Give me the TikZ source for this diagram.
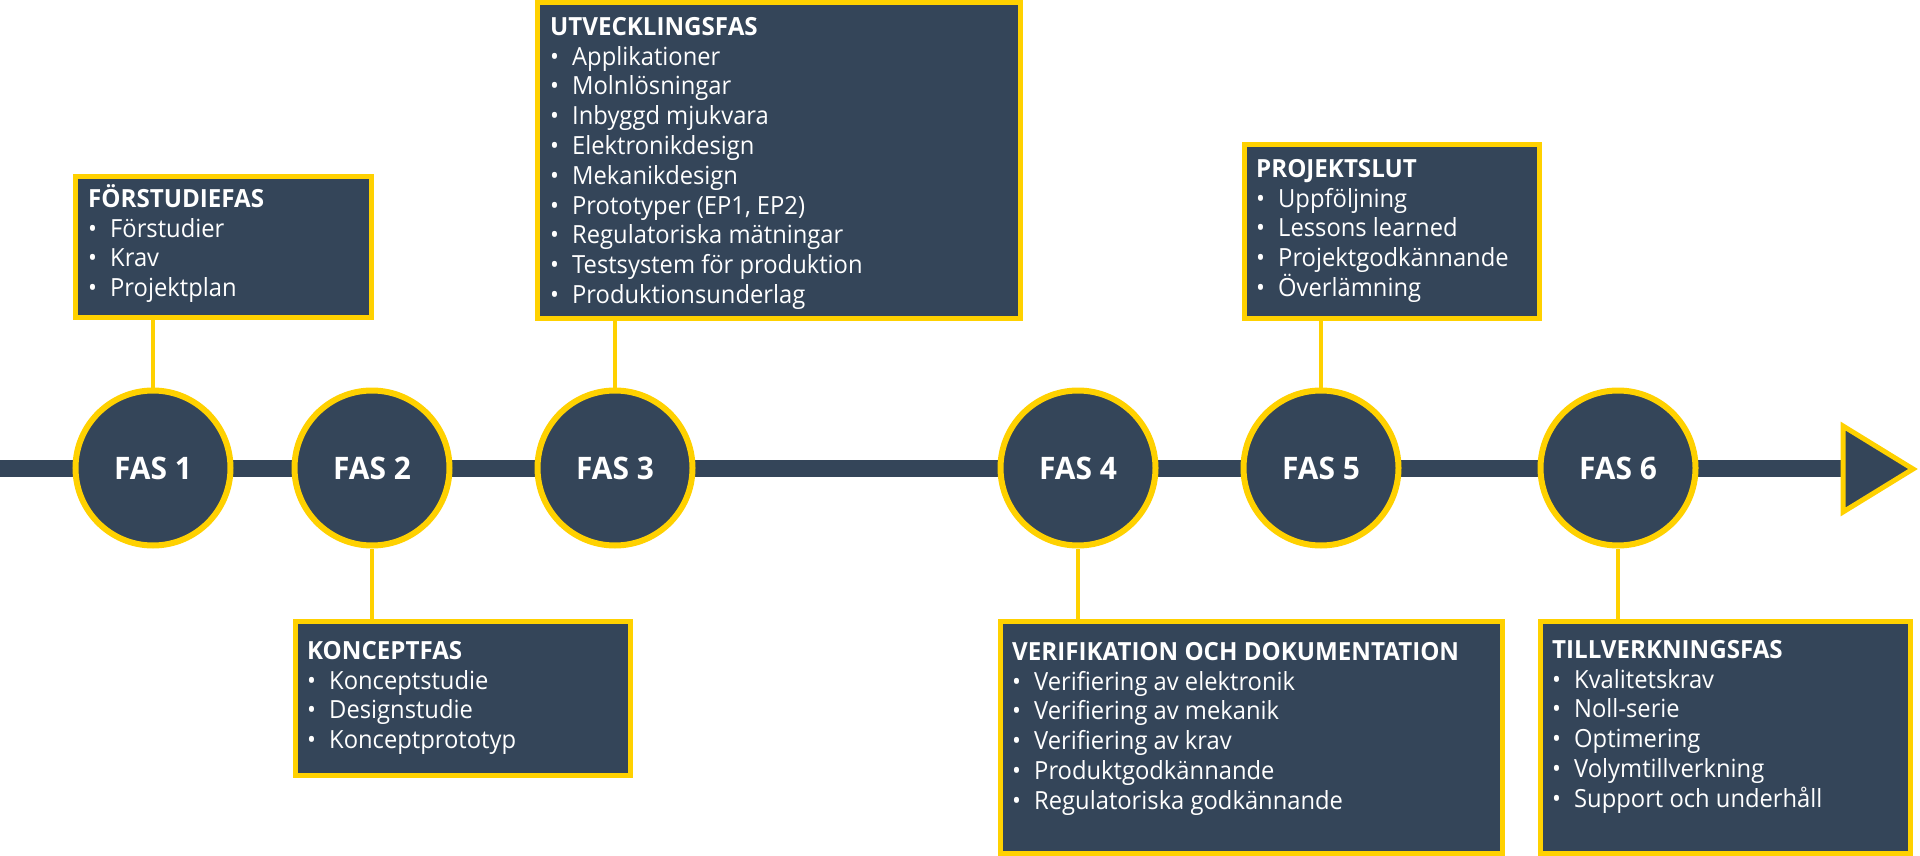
\documentclass[tikz,border=0pt]{standalone}
\usepackage{fontspec}
\setmainfont{Open Sans}[FakeStretch=0.95, BoldFeatures={FakeStretch=0.965}]
\definecolor{navycolor}{RGB}{52,69,89}
\definecolor{goldcolor}{RGB}{255,209,0}
\newcommand{\bitem}[1]{\\\makebox[22pt][l]{•}#1}

\begin{document}
\begin{tikzpicture}[
    x=1pt, y=-1pt,
    phase/.style={circle, fill=navycolor, draw=goldcolor, line width=6pt, minimum size=155pt, inner sep=0pt, text=white, font=\bfseries\fontsize{31}{36}\selectfont},
    infobox/.style={rectangle, fill=navycolor, draw=goldcolor, line width=5pt, anchor=north west, inner sep=0pt},
    boxtext/.style={anchor=north west, inner sep=0pt, align=left, text=white, font=\fontsize{25}{29.8}\selectfont},
    link/.style={draw=goldcolor, line width=4pt},
    timeline/.style={draw=navycolor, line width=17pt},
    arrowhead/.style={fill=navycolor, draw=goldcolor, line width=5pt, line join=miter}
]
  \useasboundingbox (0,0) rectangle (1920,856);

  % Time line and arrow head
  \coordinate (start) at (0,468);
  \coordinate (tipbase) at (1843,468);
  \draw[timeline] (start) -- (tipbase);
  \draw[arrowhead] (1843,426) -- (1913,469) -- (1843,512) -- cycle;

  % Boxes
  \node[infobox, minimum width=296pt, minimum height=141pt] (B1) at (73,174) {};
  \node[infobox, minimum width=335pt, minimum height=154pt] (B2) at (293,619) {};
  \node[infobox, minimum width=483pt, minimum height=316pt] (B3) at (535,0) {};
  \node[infobox, minimum width=502pt, minimum height=232pt] (B4) at (998,619) {};
  \node[infobox, minimum width=295pt, minimum height=174pt] (B5) at (1242,142) {};
  \node[infobox, minimum width=370pt, minimum height=232pt] (B6) at (1538,619) {};

  % Phases
  \node[phase] (F1) at (153,468) {FAS 1};
  \node[phase] (F2) at (372,468) {FAS 2};
  \node[phase] (F3) at (615,468) {FAS 3};
  \node[phase] (F4) at (1078,468) {FAS 4};
  \node[phase] (F5) at (1321,468) {FAS 5};
  \node[phase] (F6) at (1618,468) {FAS 6};

  % Links
  \draw[link] (F1.north) -- (F1 |- B1.south);
  \draw[link] (F2.south) -- (F2 |- B2.north);
  \draw[link] (F3.north) -- (F3 |- B3.south);
  \draw[link] (F4.south) -- (F4 |- B4.north);
  \draw[link] (F5.north) -- (F5 |- B5.south);
  \draw[link] (F6.south) -- (F6 |- B6.north);

  % Box texts
  \node[boxtext] (T1) at (88,183) {\rule{0pt}{24pt}\textbf{FÖRSTUDIEFAS}\bitem{Förstudier}\bitem{Krav}\bitem{Projektplan}};
  \node[boxtext] (T2) at (307,635) {\rule{0pt}{24pt}\textbf{KONCEPTFAS}\bitem{Konceptstudie}\bitem{Designstudie}\bitem{Konceptprototyp}};
  \node[boxtext] (T3) at (550,11) {\rule{0pt}{24pt}\textbf{UTVECKLINGSFAS}\bitem{Applikationer}\bitem{Molnlösningar}\bitem{Inbyggd mjukvara}\bitem{Elektronikdesign}\bitem{Mekanikdesign}\bitem{Prototyper (EP1, EP2)}\bitem{Regulatoriska mätningar}\bitem{Testsystem för produktion}\bitem{Produktionsunderlag}};
  \node[boxtext] (T4) at (1012,636) {\rule{0pt}{24pt}\textbf{VERIFIKATION OCH DOKUMENTATION}\bitem{Verifiering av elektronik}\bitem{Verifiering av mekanik}\bitem{Verifiering av krav}\bitem{Produktgodkännande}\bitem{Regulatoriska godkännande}};
  \node[boxtext] (T5) at (1256,153) {\rule{0pt}{24pt}\textbf{PROJEKTSLUT}\bitem{Uppföljning}\bitem{Lessons learned}\bitem{Projektgodkännande}\bitem{Överlämning}};
  \node[boxtext] (T6) at (1552,634) {\rule{0pt}{24pt}\textbf{TILLVERKNINGSFAS}\bitem{Kvalitetskrav}\bitem{Noll-serie}\bitem{Optimering}\bitem{Volymtillverkning}\bitem{Support och underhåll}};
\end{tikzpicture}
\end{document}
